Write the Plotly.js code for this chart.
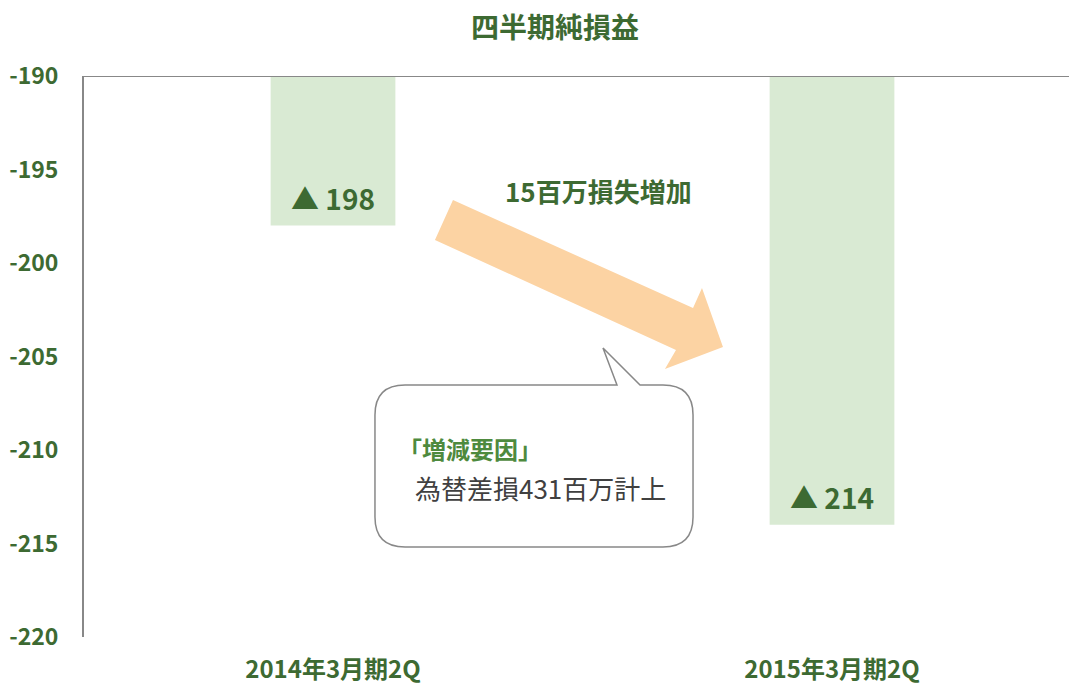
<!DOCTYPE html>
<html>
<head>
<meta charset="utf-8">
<script src="https://cdn.plot.ly/plotly-3.0.1.min.js"></script>
<style>
  html, body { margin: 0; padding: 0; background: #fff; }
  #chart { width: 1069px; height: 688px; }
</style>
</head>
<body>
<div id="chart"></div>
<script>
// Quarterly net income (millions of yen)
const categories = ['2014年3月期2Q', '2015年3月期2Q'];
const netIncome = [-198, -214];
const yTickVals = [-220, -215, -210, -205, -200, -195, -190];
const yTickText = ['-220', '-215', '-210', '-205', '-200', '-195', '-190'];

const chartTitle = '四半期純損益';
const changeLabel = '15百万損失増加';
const reasonHead = '「増減要因」';
const reasonBody = '為替差損431百万計上';

const GREEN = '#3d6a32';
const FONT = '"Noto Sans CJK JP", "Noto Sans", sans-serif';

// plot area in pixels
const L = 84, T = 76, W = 985, H = 561;
const px = x => (x - L) / W;
const py = y => 1 - (y - T) / H;
const pt = (x, y) => px(x).toFixed(4) + ',' + py(y).toFixed(4);

// speech bubble path (rounded box with a tail)
function bubblePath(x0, y0, x1, y1, r, tailA, tailB, tip) {
    return 'M' + pt(x0 + r, y0) +
        ' L' + pt(tailA, y0) + ' L' + pt(tip[0], tip[1]) + ' L' + pt(tailB, y0) +
        ' L' + pt(x1 - r, y0) + ' Q' + pt(x1, y0) + ' ' + pt(x1, y0 + r) +
        ' L' + pt(x1, y1 - r) + ' Q' + pt(x1, y1) + ' ' + pt(x1 - r, y1) +
        ' L' + pt(x0 + r, y1) + ' Q' + pt(x0, y1) + ' ' + pt(x0, y1 - r) +
        ' L' + pt(x0, y0 + r) + ' Q' + pt(x0, y0) + ' ' + pt(x0 + r, y0) + ' Z';
}

function polyPath(points) {
    return 'M' + points.map(p => pt(p[0], p[1])).join(' L') + ' Z';
}

const arrowPts = [[453, 200], [693, 308], [702, 288], [723, 347], [665, 369], [676, 350], [435, 240]];

const data = [{
    type: 'bar',
    x: categories,
    y: netIncome,
    width: 0.25,
    marker: { color: '#d9ead3', line: { width: 0 } },
    hoverinfo: 'skip'
}];

const barLabels = categories.map((c, i) => ({
    x: c, y: netIncome[i], xref: 'x', yref: 'y',
    text: '▲ ' + Math.abs(netIncome[i]),
    showarrow: false, yanchor: 'bottom', yshift: 6,
    font: { family: FONT, size: 28, color: GREEN, weight: 'bold' }
}));

const layout = {
    width: 1069,
    height: 688,
    margin: { l: L, r: 1069 - L - W, t: T, b: 688 - T - H },
    paper_bgcolor: '#fff',
    plot_bgcolor: '#fff',
    showlegend: false,
    title: {
        text: chartTitle,
        x: 555 / 1069, xref: 'container', xanchor: 'center',
        y: 1 - 28 / 688, yref: 'container', yanchor: 'middle',
        font: { family: FONT, size: 28, color: GREEN, weight: 'bold' }
    },
    xaxis: {
        type: 'category',
        range: [-0.499, -0.499 + W / 499],
        showline: false,
        showgrid: false,
        zeroline: false,
        ticks: '',
        ticklabelstandoff: 16,
        tickfont: { family: FONT, size: 24, color: GREEN, weight: 'bold' }
    },
    yaxis: {
        range: [yTickVals[0], yTickVals[yTickVals.length - 1]],
        tickmode: 'array',
        tickvals: yTickVals,
        ticktext: yTickText,
        showline: true,
        linecolor: '#888',
        linewidth: 2,
        showgrid: false,
        zeroline: false,
        ticks: '',
        ticklabelstandoff: 19,
        tickfont: { family: FONT, size: 23, color: GREEN, weight: 'bold' }
    },
    shapes: [
        { type: 'line', xref: 'paper', yref: 'y', x0: 0, x1: 1, y0: -190, y1: -190,
          line: { color: '#888', width: 2 } },
        { type: 'path', xref: 'paper', yref: 'paper', path: polyPath(arrowPts),
          fillcolor: '#fcd3a3', line: { width: 0 } },
        { type: 'path', xref: 'paper', yref: 'paper',
          path: bubblePath(375, 385, 693, 547, 30, 617, 640, [603, 348]),
          fillcolor: '#fff', line: { color: '#888', width: 1.5 } }
    ],
    annotations: barLabels.concat([
        { xref: 'paper', yref: 'paper', x: px(598), y: py(190), text: changeLabel,
          showarrow: false, xanchor: 'center', yanchor: 'middle',
          font: { family: FONT, size: 26, color: GREEN, weight: 'bold' } },
        { xref: 'paper', yref: 'paper', x: px(396), y: py(448), text: reasonHead,
          showarrow: false, xanchor: 'left', yanchor: 'middle',
          font: { family: FONT, size: 24, color: '#4e8a3e', weight: 'bold' } },
        { xref: 'paper', yref: 'paper', x: px(413), y: py(487), text: reasonBody,
          showarrow: false, xanchor: 'left', yanchor: 'middle',
          font: { family: FONT, size: 26, color: '#404040' } }
    ])
};

Plotly.newPlot('chart', data, layout, { displayModeBar: false, staticPlot: true });
</script>
</body>
</html>
